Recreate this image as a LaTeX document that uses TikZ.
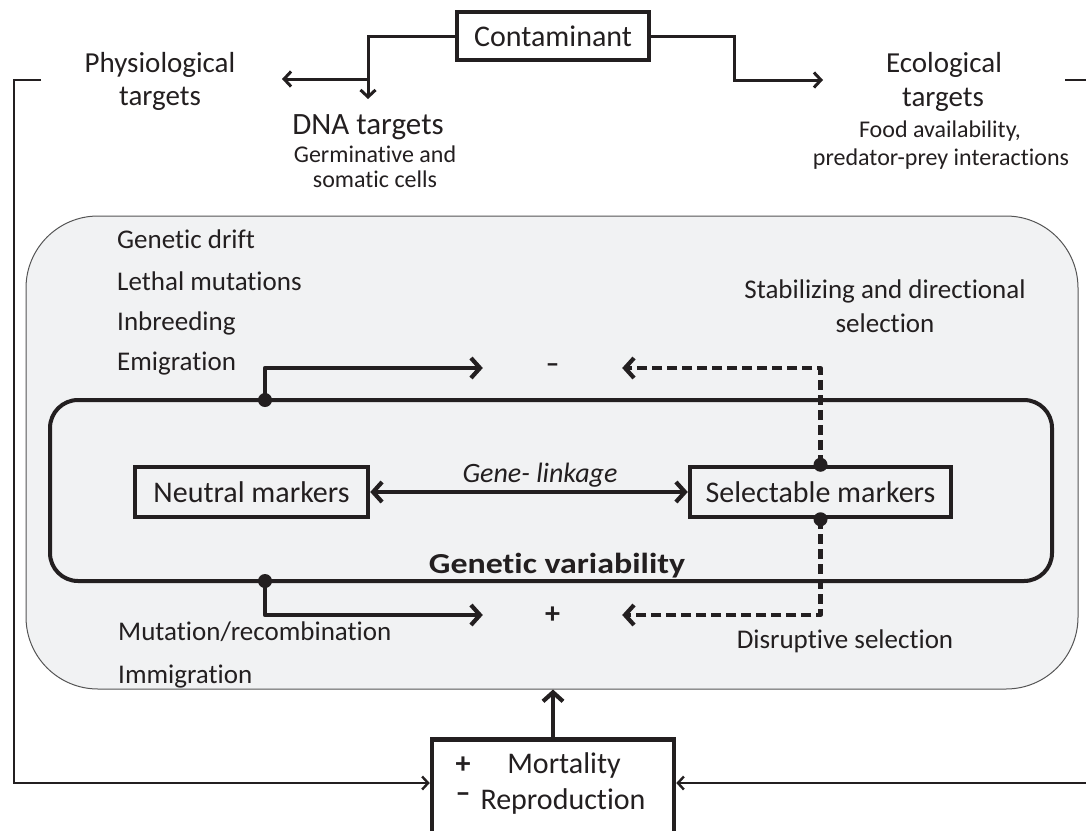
\documentclass[tikz,border=0pt]{standalone}
\usepackage{fontspec}
\setmainfont[Ligatures=NoCommon]{Carlito}
\newfontfamily\gvfont[FakeStretch=1.17,Ligatures=NoCommon]{Carlito}
\usetikzlibrary{arrows.meta}
\definecolor{ink}{HTML}{231F20}
\definecolor{popfill}{HTML}{F1F2F3}
\definecolor{popline}{HTML}{555555}
\newcommand\fsTitle{\fontsize{29}{33}\selectfont}
\newcommand\fsDNA{\fontsize{31}{35}\selectfont}
\newcommand\fsSub{\fontsize{24}{28}\selectfont}
\newcommand\fsList{\fontsize{27}{31}\selectfont}
\newcommand\fsBox{\fontsize{30}{34}\selectfont}
\newcommand\fsItal{\fontsize{28}{32}\selectfont}
\tikzset{
  boxstyle/.style={draw=ink, line width=4.5pt},
  bigarrow/.style={draw=ink, line width=4.2pt, line cap=round, line join=round, -{Straight Barb[length=9pt,width=20pt]}},
  dasharrow/.style={bigarrow, line cap=butt, dash pattern=on 10pt off 5pt},
  midarrow/.style={draw=ink, line width=3pt, line join=miter, -{Straight Barb[length=7pt,width=15pt]}},
  fbline/.style={draw=ink, line width=2.4pt, line join=miter, -{Straight Barb[length=6pt,width=13pt]}},
  dot/.style={fill=ink},
  lbl/.style={anchor=base},
  lbll/.style={anchor=base west},
}
\begin{document}
\begin{tikzpicture}[x=1pt,y=-1pt, every node/.style={text=ink, inner sep=0pt}]
\useasboundingbox (0,0) rectangle (1086,830);

% population (grey) box
\node[draw=popline, line width=1pt, fill=popfill, rounded corners=72pt,
      minimum width=1052pt, minimum height=473pt] (pop) at (552,452.5) {};

% genetic variability frame
\node[draw=ink, line width=4pt, rounded corners=28pt,
      minimum width=1002pt, minimum height=181pt] (gv) at (551,490.5) {};

% boxes
\node[boxstyle, minimum width=192pt, minimum height=48pt] (cont) at (553,36) {\fsBox Contaminant};
\node[boxstyle, minimum width=233pt, minimum height=50pt] (neu) at (251.5,492) {\fsBox Neutral markers};
\node[boxstyle, minimum width=261pt, minimum height=50pt] (sel) at (820.5,492) {\fsBox Selectable markers};
\node[boxstyle, fill=white, minimum width=242pt, minimum height=130pt, anchor=north] (mort) at (553,737) {};

% top texts
\node[lbl] (phys1) at (160,72) {\fsTitle Physiological};
\node[lbl] (phys2) at (160,105) {\fsTitle targets};
\node[lbl] (dna1) at (368,134) {\fsDNA DNA targets};
\node[lbl] (dna2) at (375,162) {\fsSub Germinative and};
\node[lbl] (dna3) at (375,187) {\fsSub somatic cells};
\node[lbl] (eco1) at (944,72) {\fsTitle Ecological};
\node[lbl] (eco2) at (943,106) {\fsTitle targets};
\node[lbl] (eco3) at (940,137) {\fsSub Food availability,};
\node[lbl] (eco4) at (941,165) {\fsSub predator-prey interactions};

% list texts
\node[lbll] (l1) at (117,248) {\fsList Genetic drift};
\node[lbll] (l2) at (117,290) {\fsList Lethal mutations};
\node[lbll] (l3) at (117,330) {\fsList Inbreeding};
\node[lbll] (l4) at (117,370) {\fsList Emigration};
\node[lbll] (l5) at (118,640) {\fsList Mutation/recombination};
\node[lbll] (l6) at (118,683) {\fsList Immigration};
\node[lbl] (s1) at (885,298) {\fsList Stabilizing and directional};
\node[lbl] (s2) at (885,332) {\fsList selection};
\node[lbl] (ds) at (845,648) {\fsList Disruptive selection};
\node[lbl] (gl) at (540,482) {\fsItal\itshape Gene- linkage};
\node[lbl] (gvl) at (557,573) {\gvfont\fontsize{29}{33}\selectfont\bfseries Genetic variability};

% sign nodes
\node[minimum width=139pt, minimum height=8pt] (minus) at (552.5,368) {\fsList\bfseries –};
\node[minimum width=139pt, minimum height=8pt] (plus) at (552.5,615) {\fsBox\bfseries +};

% mortality texts
\node (mplus) at (463,765) {\fsBox\bfseries +};
\node[lbl] (mortA) at (564,773) {\fsBox Mortality};
\node (mminus) at (463,798) {\fsBox\bfseries –};
\node[lbl] (mortB) at (563,809) {\fsBox Reproduction};

% top connectors
\coordinate (jb) at (368,79);
\coordinate (ptip) at (282,79);
\coordinate (dtip) at (368,99);
\coordinate (jr) at (734,58);
\coordinate (etip) at (823,80);
\draw[midarrow] (cont.west) -| (dtip);
\draw[midarrow] (jb) -- (ptip);
\draw[midarrow] (cont.east) -| (jr) |- (etip);

% feedback lines
\coordinate (lstub) at (41,80);
\coordinate (lcorner) at (14,80);
\coordinate (lb) at (14,783);
\draw[fbline] (lstub) -- (lcorner) -- (lb) -- (lb -| mort.west);
\coordinate (rstub) at (1065,80);
\coordinate (rcorner) at (1095,80);
\coordinate (rb) at (1095,783);
\draw[fbline] (rstub) -- (rcorner) -- (rb) -- (rb -| mort.east);

% up arrow
\draw[bigarrow] (mort.north) -- (mort.north |- pop.south);

% inner arrows
\coordinate (dtop) at (265,400);
\coordinate (dbot) at (265,581);
\draw[bigarrow] (dtop) |- (minus.west);
\draw[bigarrow] (dbot) |- (plus.west);
\draw[dasharrow] (sel.north) |- (minus.east);
\draw[dasharrow] (sel.south) |- (plus.east);
\draw[bigarrow, {Straight Barb[length=9pt,width=20pt]}-{Straight Barb[length=9pt,width=20pt]}] (neu.east) -- (sel.west);
\fill[dot] (dtop) circle (7pt);
\fill[dot] (dbot) circle (7pt);
\fill[dot] (sel.north) circle (7pt);
\fill[dot] (sel.south) circle (7pt);
\end{tikzpicture}
\end{document}
